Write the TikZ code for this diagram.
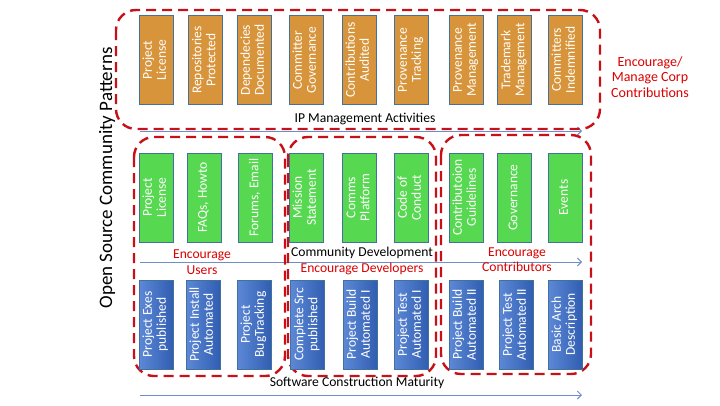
\documentclass[tikz,border=0pt]{standalone}
\usepackage{fontspec}
\setmainfont{Carlito}
\usepackage{graphicx}
\usetikzlibrary{arrows.meta}
\definecolor{orng}{RGB}{216,148,58}
\definecolor{grn}{RGB}{86,216,80}
\definecolor{bluel}{RGB}{92,136,214}
\definecolor{blued}{RGB}{50,94,178}
\definecolor{bord}{RGB}{65,113,156}
\definecolor{dred}{RGB}{200,16,24}
\definecolor{tred}{RGB}{220,0,0}
\definecolor{arrblue}{RGB}{110,142,200}
\newcommand\vt[1]{\rotatebox{90}{\begin{tabular}{@{}c@{}}#1\end{tabular}}}
\begin{document}
\begin{tikzpicture}[x=1pt,y=-1pt,
 box/.style={draw=bord, line width=0.8pt, minimum width=34pt, minimum height=89pt, inner sep=0pt, text=white, font=\fontsize{13.5}{14}\selectfont},
 obox/.style={box, fill=orng},
 gbox/.style={box, fill=grn},
 bbox/.style={box, left color=bluel, right color=blued},
 grp/.style={draw=dred, line width=2.4pt, dash pattern=on 10pt off 6pt, rounded corners=20pt},
 lbl/.style={font=\fontsize{13.6}{15.5}\selectfont, align=center, inner sep=0pt},
 rlbl/.style={lbl, text=tred},
 arr/.style={draw=arrblue, line width=0.9pt, -{Straight Barb[length=4pt,width=8pt]}}
]
\useasboundingbox[fill=white] (0,0) rectangle (720,405);

% arrows
\coordinate (a1s) at (140,131); \coordinate (a1e) at (582,131);
\coordinate (a2s) at (140,262); \coordinate (a2e) at (582,262);
\coordinate (a3s) at (140,395); \coordinate (a3e) at (582,395);
\draw[arr] (a1s) -- (a1e);
\draw[arr] (a2s) -- (a2e);
\draw[arr] (a3s) -- (a3e);

% groups
\draw[grp] (116,10) rectangle (600,129);
\draw[grp] (134,137) rectangle (285,376);
\draw[grp] (288,137) rectangle (436,376);
\draw[grp] (441,135) rectangle (591,374);

% orange row
\node[obox] (o1) at (156,60) {\vt{Project\\License}};
\node[obox] (o2) at (205.5,60) {\vt{Repositories\\Protected}};
\node[obox] (o3) at (254,60) {\vt{Dependecies\\Documented}};
\node[obox] (o4) at (306,60) {\vt{Committer\\Governance}};
\node[obox] (o5) at (359,60) {\vt{Contributions\\Audited}};
\node[obox] (o6) at (411,60) {\vt{Provenance\\Tracking}};
\node[obox] (o7) at (466,60) {\vt{Provenance\\Management}};
\node[obox] (o8) at (514.5,60) {\vt{Trademark\\Management}};
\node[obox] (o9) at (565,60) {\vt{Committers\\Indemnified}};

% green row
\node[gbox] (g1) at (156,197.5) {\vt{Project\\License}};
\node[gbox] (g2) at (204,197.5) {\vt{FAQs, Howto}};
\node[gbox] (g3) at (255.5,197.5) {\vt{Forums, Email}};
\node[gbox] (g4) at (306,197.5) {\vt{Mission\\Statement}};
\node[gbox] (g5) at (359.5,197.5) {\vt{Comms\\Platform}};
\node[gbox] (g6) at (411,197.5) {\vt{Code of\\Conduct}};
\node[gbox] (g7) at (466,197.5) {\vt{Contributoion\\Guidelines}};
\node[gbox] (g8) at (514.5,197.5) {\vt{Governance}};
\node[gbox] (g9) at (565,197.5) {\vt{Events}};

% blue row
\node[bbox] (b1) at (156,324.5) {\vt{Project Exes\\published}};
\node[bbox] (b2) at (203,324.5) {\vt{Project Install\\Automated}};
\node[bbox] (b3) at (254,324.5) {\vt{Project\\BugTracking}};
\node[bbox] (b4) at (307.5,324.5) {\vt{Complete Src\\published}};
\node[bbox] (b5) at (360,324.5) {\vt{Project Build\\Automated I}};
\node[bbox] (b6) at (411,324.5) {\vt{Project Test\\Automated I}};
\node[bbox] (b7) at (466,324.5) {\vt{Project Build\\Automated II}};
\node[bbox] (b8) at (516,324.5) {\vt{Project Test\\Automated II}};
\node[bbox] (b9) at (565,324.5) {\vt{Basic Arch\\Description}};

% labels
\node[lbl] (ip) at (365,119) {IP Management Activities};
\node[rlbl, font=\fontsize{14}{15.5}\selectfont] (corp) at (650,77) {Encourage/\\Manage Corp\\Contributions};
\node[rlbl, font=\fontsize{13.6}{16}\selectfont] (encu) at (202,262) {Encourage\\Users};
\node[lbl] (cd) at (362,253) {Community Development};
\node[rlbl] (encd) at (362,269) {Encourage Developers};
\node[rlbl, font=\fontsize{13.6}{15}\selectfont] (encc) at (517,259.5) {Encourage\\Contributors};
\node[lbl] (scm) at (357,383) {Software Construction Maturity};
\node[lbl, rotate=90, font=\fontsize{19}{22}\selectfont] (title) at (107,178) {Open Source Community Patterns};
\end{tikzpicture}
\end{document}
